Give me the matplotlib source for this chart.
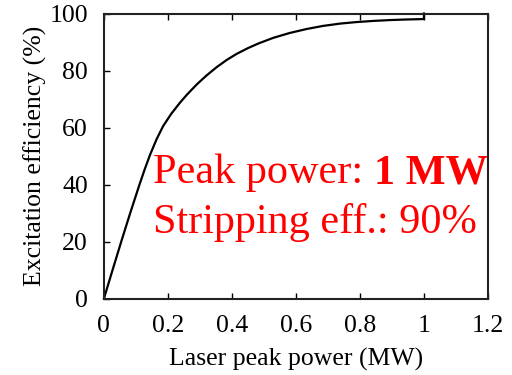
import numpy as np
from matplotlib import pyplot as plt

# values
power = [0, 0.0275, 0.055, 0.083, 0.110, 0.127, 0.144, 0.165, 0.185,
         0.21, 0.2375, 0.26, 0.29, 0.32, 0.352, 0.385, 0.415, 0.45,
         0.482, 0.529, 0.58, 0.633, 0.685, 0.7375, 0.79, 0.842, 0.895,
         0.946, 1.0, 1.0]
eff = [0, 10.2, 20.3, 30.3, 39.6, 45.2, 50.4, 56.0, 60.5,
       64.75, 68.7, 71.6, 75.1, 78.2, 81.15, 83.8, 85.85, 87.85,
       89.45, 91.45, 93.15, 94.55, 95.65, 96.45, 97.0, 97.4, 97.7,
       97.9, 98.05, 100]

xticks = [0, 0.2, 0.4, 0.6, 0.8, 1.0, 1.2]
xlabels = ['0', '0.2', '0.4', '0.6', '0.8', '1', '1.2']
yticks = [0, 20, 40, 60, 80, 100]

plt.rcParams['font.family'] = ['Liberation Serif', 'DejaVu Serif']

fig = plt.figure(figsize=(5.12, 3.75), dpi=100)
ax = fig.add_axes([0.203, 0.204, 0.75, 0.76])

ax.plot(power, eff, color='black', linewidth=1.6, clip_on=False,
        solid_joinstyle='round')

ax.set_xlim(0, 1.2)
ax.set_ylim(0, 100)
ax.set_xticks(xticks)
ax.set_xticklabels(xlabels)
ax.set_yticks(yticks)
ax.tick_params(direction='in', length=4, width=1, labelsize=18.5,
               top=True, right=False)
ax.tick_params(axis='x', pad=12)
ax.tick_params(axis='y', pad=11.5)
for s in ax.spines.values():
    s.set_linewidth(1.5)
    s.set_color('#222222')

ax.set_xlabel('Laser peak power (MW)', fontsize=18.5, labelpad=8)
ax.set_ylabel('Excitation efficiency (%)', fontsize=18.5, labelpad=2)

red_size = 30.4
ax.text(0.128, 0.405, 'Peak power: ', transform=ax.transAxes, color='red',
        fontsize=red_size)
ax.text(0.128, 0.23, 'Stripping eff.: 90%', transform=ax.transAxes,
        color='red', fontsize=red_size)
# bold part appended after the plain text
t = ax.texts[0]
fig.canvas.draw()
bb = t.get_window_extent()
x1 = ax.transAxes.inverted().transform((bb.x1, bb.y0))[0]
ax.text(x1, 0.405, '1 MW', transform=ax.transAxes, color='red',
        fontsize=red_size, fontweight='bold')

fig.savefig('out.png', dpi=100)
